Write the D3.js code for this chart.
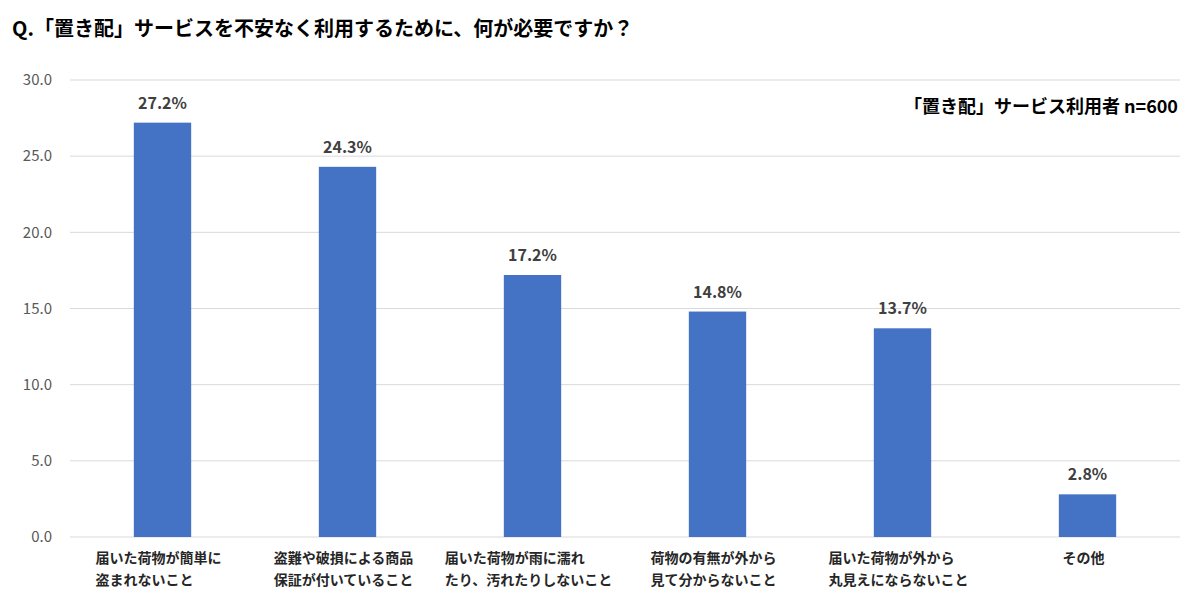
<!DOCTYPE html>
<html><head><meta charset="utf-8">
<script src="https://cdn.jsdelivr.net/npm/d3@7"></script>
<style>body{margin:0;background:#fff}text{font-family:"Noto Sans CJK JP","Noto Sans",sans-serif}</style>
</head><body><svg id="chart" width="1200" height="599"></svg>
<script>
const categories = [
  ["届いた荷物が簡単に", "盗まれないこと"],
  ["盗難や破損による商品", "保証が付いていること"],
  ["届いた荷物が雨に濡れ", "たり、汚れたりしないこと"],
  ["荷物の有無が外から", "見て分からないこと"],
  ["届いた荷物が外から", "丸見えにならないこと"],
  ["その他"]
]
const values = [27.2, 24.3, 17.2, 14.8, 13.7, 2.8]
const yTicks = [0, 5, 10, 15, 20, 25, 30]

const svg = d3.select("#chart")
const margin = { top: 80, right: 20, bottom: 62, left: 70 }
const width = 1200, height = 599

const x = d3.scaleBand().domain(d3.range(values.length))
  .range([margin.left, width - margin.right]).paddingInner(0.69).paddingOuter(0.345)
const y = d3.scaleLinear().domain([0, 30]).range([height - margin.bottom, margin.top])

// gridlines
svg.append("g").selectAll("line").data(yTicks).enter().append("line")
  .attr("x1", margin.left).attr("x2", width - margin.right)
  .attr("y1", d => y(d)).attr("y2", d => y(d))
  .attr("stroke", "#d9d9d9").attr("stroke-width", 1)

svg.append("g").selectAll("text").data(yTicks).enter().append("text")
  .attr("x", 52).attr("y", d => y(d)).attr("dy", "0.35em")
  .attr("text-anchor", "end").attr("font-size", 15).attr("fill", "#595959")
  .text(d => d.toFixed(1))

svg.append("g").selectAll("rect").data(values).enter().append("rect")
  .attr("x", (d, i) => x(i)).attr("width", x.bandwidth())
  .attr("y", d => y(d)).attr("height", d => y(0) - y(d))
  .attr("fill", "#4472C4")

svg.append("g").selectAll("text").data(values).enter().append("text")
  .attr("x", (d, i) => x(i) + x.bandwidth() / 2).attr("y", d => y(d) - 14)
  .attr("text-anchor", "middle").attr("font-size", 16).attr("font-weight", "bold")
  .attr("fill", "#404040").text(d => d.toFixed(1) + "%")

// category labels: block centred under bar, lines left-aligned
const labels = svg.append("g").selectAll("text").data(categories).enter().append("text")
  .attr("y", 563).attr("font-size", 14).attr("font-weight", "bold").attr("fill", "#262626")
labels.selectAll("tspan").data(d => d).enter().append("tspan")
  .attr("dy", (d, i) => i ? 22 : 0).text(d => d)
labels.each(function (d, i) {
  const t = d3.select(this)
  const w = d3.max(t.selectAll("tspan").nodes(), n => n.getComputedTextLength())
  const left = x(i) + x.bandwidth() / 2 - 4 - w / 2
  t.selectAll("tspan").attr("x", left)
})

svg.append("text").attr("x", 12).attr("y", 36).attr("font-size", 20).attr("font-weight", "bold")
  .attr("fill", "#000").text("Q.「置き配」サービスを不安なく利用するために、何が必要ですか？")

svg.append("text").attr("x", 1178).attr("y", 113).attr("text-anchor", "end")
  .attr("font-size", 18).attr("font-weight", "bold").attr("fill", "#000")
  .text("「置き配」サービス利用者 n=600")
</script></body></html>
